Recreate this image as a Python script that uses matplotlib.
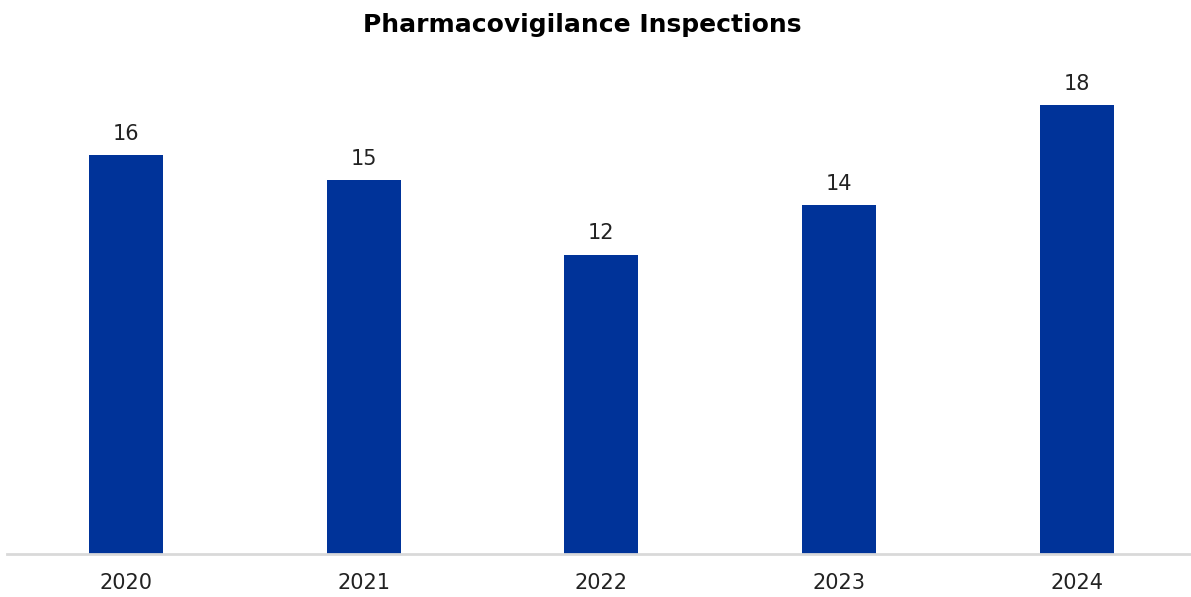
import matplotlib
matplotlib.use("Agg")
import matplotlib.pyplot as plt

years = ["2020", "2021", "2022", "2023", "2024"]
inspections = [16, 15, 12, 14, 18]

plt.rcParams['font.family'] = ['DejaVu Sans']

fig = plt.figure(figsize=(11.91, 5.97), dpi=100)
ax = fig.add_axes([7/1191, 43/597, 1 - 7/1191, (554-55)/597])

x = list(range(len(years)))
bars = ax.bar(x, inspections, width=0.311, color="#003399")
ax.set_xlim(-0.5, 4.48)
ax.set_ylim(0, 20)

for xi, v in zip(x, inspections):
    ax.annotate(str(v), (xi, v), xytext=(0, 8), textcoords="offset points",
                ha="center", va="bottom", fontsize=15, color="#222222")

ax.set_xticks(x)
ax.set_xticklabels(years, fontsize=15, color="#222222")
ax.tick_params(axis="x", length=0, pad=14)
ax.set_yticks([])
for s in ["top", "right", "left"]:
    ax.spines[s].set_visible(False)
ax.spines["bottom"].set_color("#d9d9d9")
ax.spines["bottom"].set_linewidth(2)

fig.text(582/1191, 1 - 25/597, "Pharmacovigilance Inspections", ha="center", va="center",
         fontsize=18, fontweight="bold", color="black")

fig.savefig("out.png", dpi=100, facecolor="white")
